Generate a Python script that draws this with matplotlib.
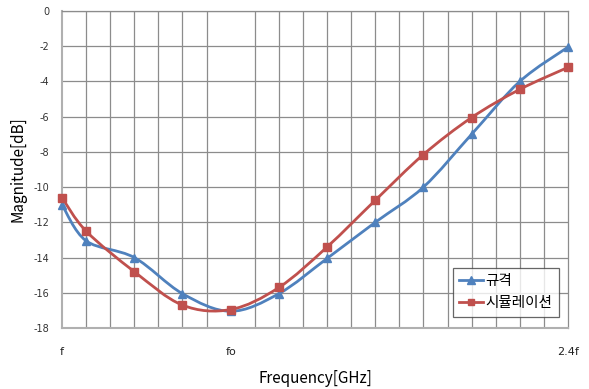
import matplotlib
matplotlib.use("Agg")
import matplotlib.pyplot as plt
from matplotlib.path import Path
from matplotlib.patches import PathPatch
from matplotlib.lines import Line2D

plt.rcParams['font.family'] = ['Noto Sans CJK KR', 'DejaVu Sans']

# category positions (0 = f, 7 = fo, 21 = 2.4f)
idx = [0, 1, 3, 5, 7, 9, 11, 13, 15, 17, 19, 21]
spec = [-11.0, -13.05, -14.0, -16.05, -17.05, -16.05, -14.05, -12.0, -10.0, -7.0, -4.0, -2.05]
sim = [-10.6, -12.5, -14.8, -16.7, -16.95, -15.7, -13.4, -10.75, -8.15, -6.05, -4.45, -3.2]
xtick_pos = [0, 7, 21]
xtick_lab = ['f', 'fo', '2.4f']

BLUE = '#4F81BD'
RED = '#C0504D'


def smooth_path(xs, ys):
    """courbe lissée façon Excel (Bezier / Catmull-Rom)"""
    pts = list(zip(xs, ys))
    verts = [pts[0]]
    codes = [Path.MOVETO]
    n = len(pts)
    for i in range(n - 1):
        p0 = pts[i - 1] if i > 0 else pts[i]
        p1 = pts[i]
        p2 = pts[i + 1]
        p3 = pts[i + 2] if i + 2 < n else pts[i + 1]
        c1 = (p1[0] + (p2[0] - p0[0]) / 6, p1[1] + (p2[1] - p0[1]) / 6)
        c2 = (p2[0] - (p3[0] - p1[0]) / 6, p2[1] - (p3[1] - p1[1]) / 6)
        verts += [c1, c2, p2]
        codes += [Path.CURVE4] * 3
    return Path(verts, codes)


fig = plt.figure(figsize=(5.89, 3.89), dpi=100)
ax = fig.add_axes([0.1053, 0.1568, 0.8590, 0.8149])

for ys, col, mk, ms in [(spec, BLUE, '^', 6), (sim, RED, 's', 5.2)]:
    ax.add_patch(PathPatch(smooth_path(idx, ys), facecolor='none',
                           edgecolor=col, lw=2.0, zorder=3, clip_on=False))
    ax.plot(idx, ys, ls='none', marker=mk, color=col, ms=ms, zorder=4,
            clip_on=False)

ax.set_xlim(0, 21)
ax.set_ylim(-18, 0)
ax.set_xticks(range(22), minor=True)
ax.set_xticks(xtick_pos)
ax.set_xticklabels(xtick_lab, fontsize=8, color='#222222', family='DejaVu Sans')
ax.set_yticks(range(-18, 1, 2))
ax.set_yticklabels([str(v) for v in range(-18, 1, 2)], fontsize=7,
                   color='#333333', family='DejaVu Sans')
ax.tick_params(axis='x', which='both', length=0, pad=14)
ax.tick_params(axis='y', length=0, pad=9)
ax.grid(True, which='minor', axis='x', color='#8c8c8c', lw=0.9)
ax.grid(True, which='major', axis='y', color='#8c8c8c', lw=0.9)
for s in ax.spines.values():
    s.set_color('#8c8c8c')
    s.set_linewidth(0.9)
ax.spines['left'].set_color('#b0b0b0')
ax.spines['left'].set_linewidth(1.5)
ax.spines['bottom'].set_color('#b0b0b0')
ax.spines['bottom'].set_linewidth(1.5)

ax.set_xlabel('Frequency[GHz]', fontsize=11, labelpad=9)
ax.set_ylabel('Magnitude[dB]', fontsize=11, labelpad=5)

handles = [Line2D([], [], color=BLUE, marker='^', lw=2.0, ms=5.5),
           Line2D([], [], color=RED, marker='s', lw=2.0, ms=5)]
leg = ax.legend(handles, ['규격', '시뮬레이션'], loc='lower right',
                bbox_to_anchor=(0.982, 0.035), fontsize=10.5, frameon=True,
                fancybox=False, edgecolor='#404040', handlelength=1.6,
                handletextpad=0.2, borderpad=0.45, labelspacing=0.55,
                borderaxespad=0)
leg.get_frame().set_linewidth(0.9)

fig.savefig('out.png', dpi=100)
